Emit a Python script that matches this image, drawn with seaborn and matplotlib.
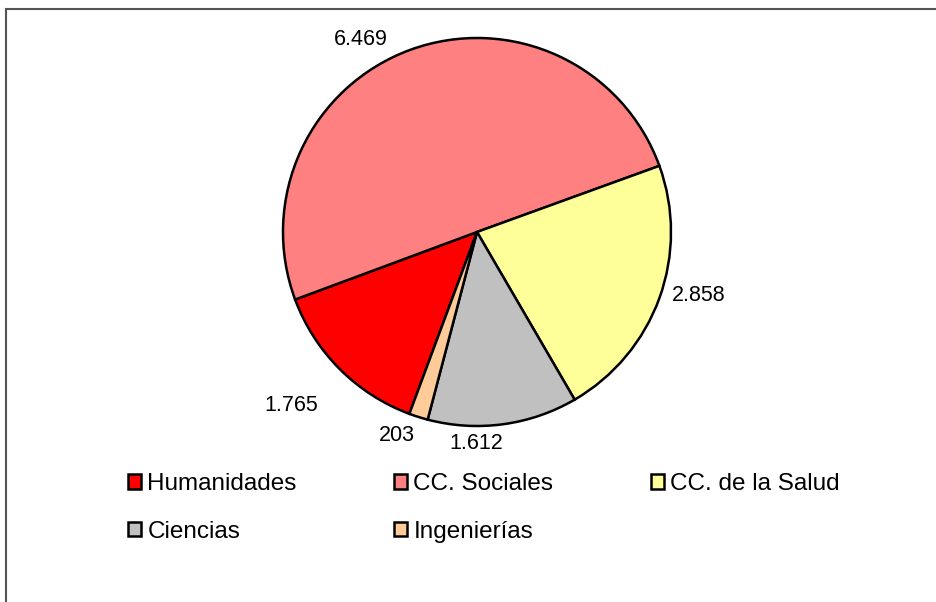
import matplotlib
matplotlib.use("Agg")
import matplotlib.pyplot as plt
import matplotlib.patches as mpatches
import numpy as np
import seaborn as sns

sns.set_theme(style="white")
plt.rcParams['font.family'] = ['Liberation Sans', 'DejaVu Sans']
plt.rcParams['text.color'] = 'black'

areas = ["Humanidades", "CC. Sociales", "CC. de la Salud", "Ciencias", "Ingenierías"]
values = [1765, 6469, 2858, 1612, 203]
colors = ["#FF0000", "#FF8080", "#FFFF99", "#C0C0C0", "#FFCC99"]

W, H = 937, 602
fig = plt.figure(figsize=(W / 100, H / 100), dpi=100)

# marco del grafico (recortado a la derecha y abajo)
fig.patches.append(mpatches.Rectangle((6 / W, -0.1), 2.0, 1.1 - 9 / H,
                                      transform=fig.transFigure, fill=False,
                                      edgecolor="#555555", linewidth=1.5))

# eje del pie: centro (477,232) px, radio 194 px
cx, cy, R = 477, 232, 194
half = 250
ax = fig.add_axes([(cx - half) / W, (H - cy - half) / H, 2 * half / W, 2 * half / H])
lim = half / R

wedges, _ = ax.pie(values, colors=colors, startangle=249.6, counterclock=False,
                   wedgeprops=dict(edgecolor="black", linewidth=1.8))
ax.set_xlim(-lim, lim)
ax.set_ylim(-lim, lim)
ax.set_aspect("equal")
ax.axis("off")

# etiquetas de valor: angulo (offset respecto al centro de la cuña) y distancia
lab_dang = [-2, 11, 4, -8, -4]
lab_dist = [1.31, 1.16, 1.19, 1.09, 1.13]
for w, v, da, d in zip(wedges, values, lab_dang, lab_dist):
    th = np.deg2rad((w.theta1 + w.theta2) / 2 + da)
    txt = f"{v:,}".replace(",", ".")
    ax.text(d * np.cos(th), d * np.sin(th), txt, ha="center", va="center",
            fontsize=15.5, color="black")

# leyenda por filas (matplotlib rellena por columnas)
order = [0, 3, 1, 4, 2]
handles = [mpatches.Rectangle((0, 0), 1, 1, facecolor=colors[i], edgecolor="black", linewidth=1.8)
           for i in order]
leg = fig.legend(handles, [areas[i] for i in order], loc="upper left",
                 bbox_to_anchor=(128 / W, 1 - 473 / H),
                 ncol=3, frameon=False, fontsize=17.5, handlelength=0.55, handleheight=0.55,
                 handletextpad=0.25, columnspacing=4.0, labelspacing=1.05, borderpad=0,
                 borderaxespad=0)
for t in leg.get_texts():
    t.set_color("black")

fig.savefig("out.png", dpi=100, facecolor="white")
